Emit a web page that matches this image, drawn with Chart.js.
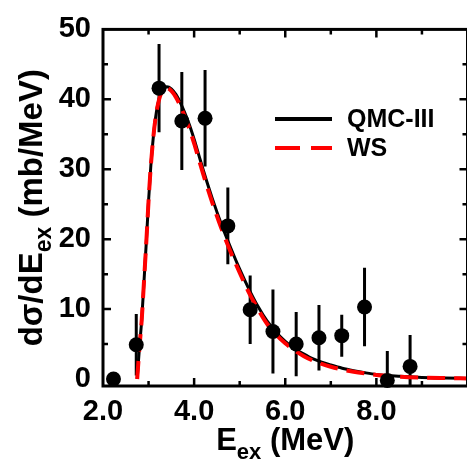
<!DOCTYPE html>
<html>
<head>
	<meta charset="utf-8">
	<title>dsigma/dEex</title>
	<script src="https://cdn.jsdelivr.net/npm/chart.js@4.4.0/dist/chart.umd.min.js"></script>
	<style>
		html, body { margin: 0; padding: 0; overflow: hidden; background: #fff; }
	</style>
</head>
<body>

	<canvas id="mychart" width="475" height="464"></canvas>

	<script type="text/javascript">

		// measured points
		const expX = [2.23, 2.73, 3.23, 3.73, 4.24, 4.74, 5.23, 5.73, 6.24, 6.74, 7.24, 7.74, 8.24, 8.74];
		const expY = [0, 4.9, 41.6, 36.9, 37.3, 21.9, 9.9, 6.8, 5.0, 5.9, 6.2, 10.3, -0.2, 1.8];
		const expErr = [0, 4.4, 6.3, 7.0, 6.9, 5.5, 4.9, 6.0, 4.6, 4.7, 3.0, 5.6, 4.2, 4.5];

		// calculated curves
		const curveX = [2.75, 2.8, 2.85, 2.9, 2.95, 3.0, 3.05, 3.1, 3.15, 3.2, 3.25, 3.3, 3.4, 3.5, 3.6, 3.7, 3.8, 3.9, 4.0, 4.1, 4.2, 4.4, 4.6, 4.8, 5.0, 5.2, 5.4, 5.6, 5.8, 6.0, 6.2, 6.4, 6.6, 6.8, 7.0, 7.25, 7.5, 7.75, 8.0, 8.5, 9.0, 9.5, 10.0];
		const qmcY = [0, 4.5, 8.5, 14.0, 19.5, 25.5, 30.5, 34.3, 37.2, 39.2, 40.5, 41.3, 41.8, 41.5, 40.7, 39.5, 38.0, 36.3, 34.3, 32.1, 29.9, 25.8, 22.1, 18.8, 15.7, 12.9, 10.4, 8.3, 6.7, 5.4, 4.4, 3.6, 2.9, 2.4, 2.0, 1.55, 1.2, 0.9, 0.65, 0.38, 0.22, 0.14, 0.09];
		const wsY = [0, 4.5, 8.5, 14.0, 19.5, 25.5, 30.5, 34.3, 37.2, 39.1, 40.4, 41.2, 41.6, 41.2, 40.3, 39.0, 37.4, 35.7, 33.7, 31.5, 29.3, 25.2, 21.5, 18.2, 15.2, 12.4, 10.0, 7.9, 6.35, 5.1, 4.1, 3.3, 2.65, 2.15, 1.75, 1.35, 1.05, 0.8, 0.58, 0.34, 0.2, 0.13, 0.08];

		const xLabels = [2, 4, 6, 8];
		const yLabels = [0, 10, 20, 30, 40, 50];

		const toXY = (xs, ys) => xs.map((x, i) => ({ x: x, y: ys[i] }));

		const frame = {
			id: 'frame',
			beforeDatasetsDraw(chart) {
				const ctx = chart.ctx;
				const a = chart.chartArea;
				const xs = chart.scales.x, ys = chart.scales.y;
				ctx.save();
				ctx.beginPath();
				ctx.rect(a.left, a.top, a.right - a.left, a.bottom - a.top);
				ctx.clip();
				ctx.strokeStyle = '#000';
				ctx.lineWidth = 3;
				expX.forEach((x, i) => {
					if (!expErr[i]) return;
					const px = xs.getPixelForValue(x);
					ctx.beginPath();
					ctx.moveTo(px, ys.getPixelForValue(expY[i] - expErr[i]));
					ctx.lineTo(px, ys.getPixelForValue(expY[i] + expErr[i]));
					ctx.stroke();
				});
				ctx.restore();
			},
			afterDraw(chart) {
				const ctx = chart.ctx;
				const a = chart.chartArea;
				const xs = chart.scales.x, ys = chart.scales.y;
				ctx.save();
				ctx.strokeStyle = '#000';
				ctx.lineWidth = 3;
				ctx.strokeRect(a.left, a.top, a.right - a.left, a.bottom - a.top);
				ctx.lineWidth = 2.5;
				// x ticks, inward, top and bottom
				for (let v = 3; v <= 9; v++) {
					const len = v % 2 === 0 ? 8 : 5;
					const px = xs.getPixelForValue(v);
					ctx.beginPath();
					ctx.moveTo(px, a.bottom); ctx.lineTo(px, a.bottom - len);
					ctx.moveTo(px, a.top); ctx.lineTo(px, a.top + len);
					ctx.stroke();
				}
				// y ticks, inward, left and right
				for (let v = 5; v < 50; v += 5) {
					const len = v % 10 === 0 ? 8 : 5;
					const py = ys.getPixelForValue(v);
					ctx.beginPath();
					ctx.moveTo(a.left, py); ctx.lineTo(a.left + len, py);
					ctx.moveTo(a.right, py); ctx.lineTo(a.right - len, py);
					ctx.stroke();
				}

				// legend
				ctx.lineWidth = 4;
				ctx.beginPath();
				ctx.moveTo(275, 119); ctx.lineTo(332, 119);
				ctx.stroke();
				ctx.strokeStyle = '#ff0000';
				ctx.lineWidth = 4;
				ctx.setLineDash([25, 11]);
				ctx.beginPath();
				ctx.moveTo(275, 148); ctx.lineTo(332, 148);
				ctx.stroke();
				ctx.setLineDash([]);
				ctx.fillStyle = '#000';
				ctx.font = 'bold 25px "Liberation Sans", Arial, sans-serif';
				ctx.textBaseline = 'middle';
				ctx.textAlign = 'left';
				ctx.fillText('QMC-III', 347, 120);
				ctx.fillText('WS', 347, 149);

				// axis titles with subscripts
				const drawTitle = (parts, cx, cy, size, subSize, subDrop) => {
					const widths = parts.map(p => {
						ctx.font = 'bold ' + (p.sub ? subSize : size) + 'px "Liberation Sans", Arial, sans-serif';
						return ctx.measureText(p.t).width;
					});
					let x = cx - widths.reduce((s, w) => s + w, 0) / 2;
					ctx.textBaseline = 'alphabetic';
					parts.forEach((p, i) => {
						ctx.font = 'bold ' + (p.sub ? subSize : size) + 'px "Liberation Sans", Arial, sans-serif';
						ctx.fillText(p.t, x, cy + (p.sub ? subDrop : 0));
						x += widths[i];
					});
				};
				drawTitle([{ t: 'E' }, { t: 'ex', sub: true }, { t: ' (MeV)' }], (a.left + a.right) / 2, 450, 31, 22, 9);
				ctx.save();
				ctx.translate(42, (a.top + a.bottom) / 2);
				ctx.rotate(-Math.PI / 2);
				drawTitle([{ t: 'd\u03c3/dE' }, { t: 'ex', sub: true }, { t: ' (mb/MeV)' }], 0, 0, 33, 23, 9);
				ctx.restore();
				ctx.restore();
			}
		};

		const ctx = document.getElementById('mychart').getContext('2d');
		const myChart = new Chart(ctx, {
			type: 'scatter',
			data: {
				datasets: [{
					label: 'data',
					data: toXY(expX, expY),
					backgroundColor: '#000',
					borderWidth: 0,
					pointRadius: 7.5,
					clip: false,
					order: 0
				}, {
					label: 'WS',
					type: 'line',
					data: toXY(curveX, wsY),
					borderColor: '#ff0000',
					borderWidth: 4,
					borderDash: [18, 9],
					pointRadius: 0,
					fill: false,
					cubicInterpolationMode: 'monotone',
					order: 1
				}, {
					label: 'QMC-III',
					type: 'line',
					data: toXY(curveX, qmcY),
					borderColor: '#000',
					borderWidth: 3,
					pointRadius: 0,
					fill: false,
					cubicInterpolationMode: 'monotone',
					order: 2
				}]
			},
			options: {
				responsive: false,
				animation: false,
				layout: { padding: { top: 20, right: 6, left: 0, bottom: 0 } },
				plugins: { legend: { display: false }, tooltip: { enabled: false } },
				scales: {
					x: {
						type: 'linear',
						min: 2, max: 10,
						grid: { display: false, drawTicks: false },
						border: { display: false },
						afterBuildTicks: s => { s.ticks = xLabels.map(v => ({ value: v })); },
						afterFit: s => { s.height = 78; },
						ticks: {
							autoSkip: false,
							maxRotation: 0,
							padding: 9,
							color: '#000',
							font: { family: '"Liberation Sans", Arial, sans-serif', size: 29, weight: 'bold' },
							callback: v => v.toFixed(1)
						}
					},
					y: {
						type: 'linear',
						min: -1, max: 50,
						grid: { display: false, drawTicks: false },
						border: { display: false },
						afterBuildTicks: s => { s.ticks = yLabels.map(v => ({ value: v })); },
						afterFit: s => { s.width = 103; },
						ticks: {
							padding: 12,
							color: '#000',
							font: { family: '"Liberation Sans", Arial, sans-serif', size: 29, weight: 'bold' }
						}
					}
				}
			},
			plugins: [frame]
		});

	</script>

</body>
</html>
